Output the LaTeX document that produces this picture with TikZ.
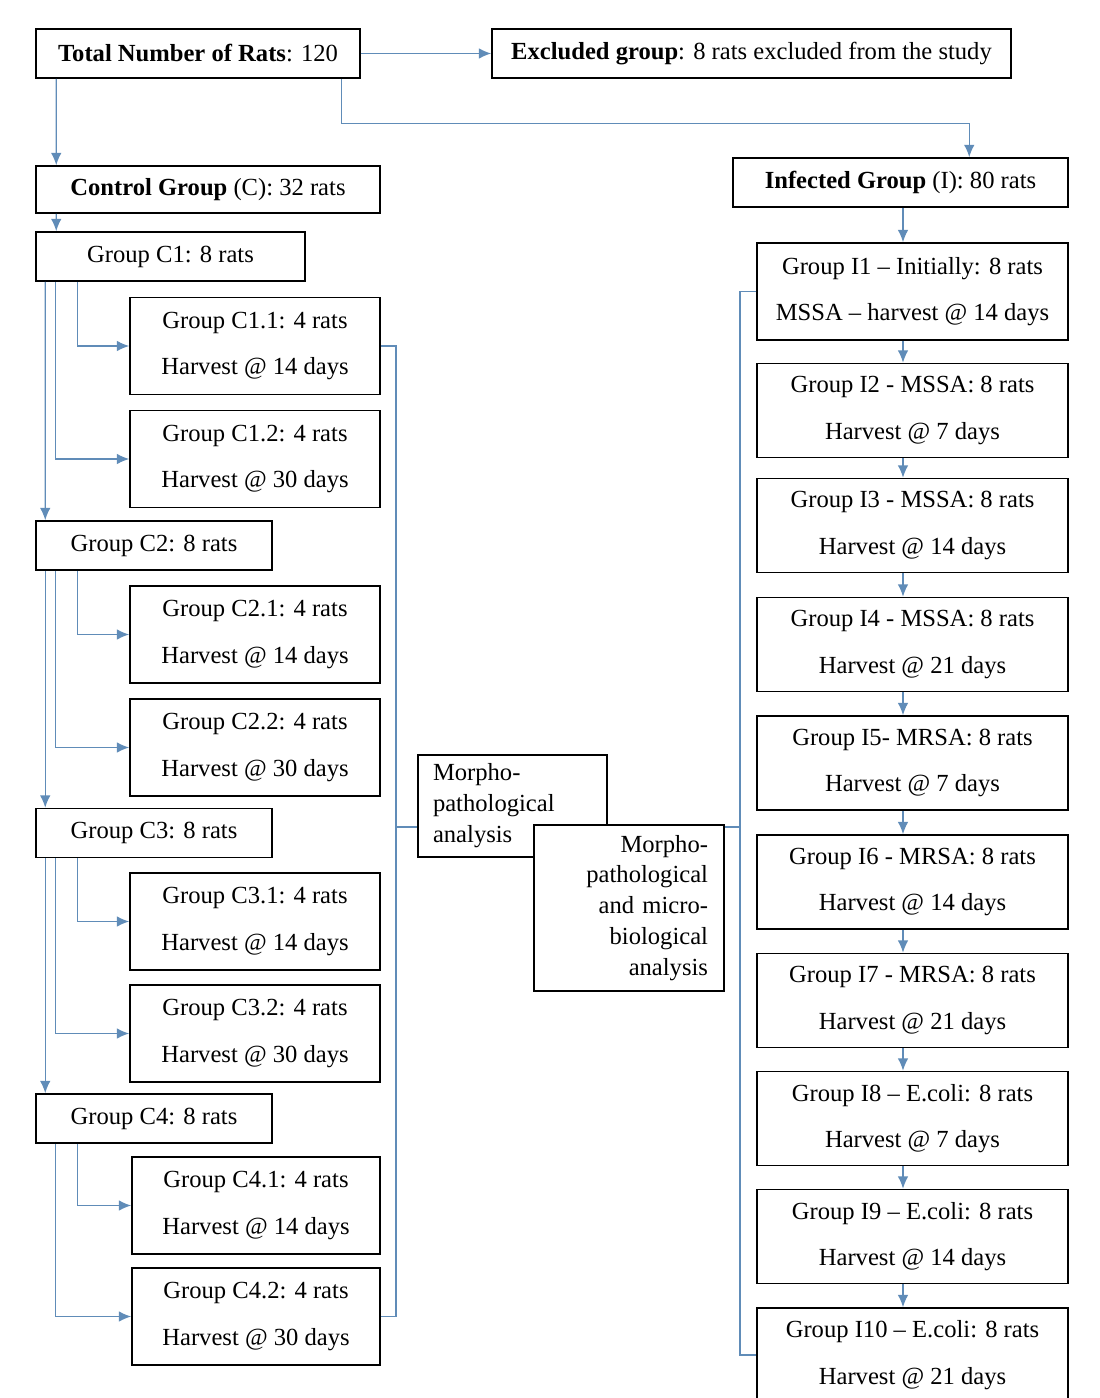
\documentclass[tikz,border=0pt]{standalone}
\usepackage{fontspec}
\setmainfont{Liberation Serif}
\usetikzlibrary{arrows.meta,calc}

\definecolor{linkblue}{RGB}{96,140,184}

\tikzset{
  box/.style={draw=black, line width=0.9pt, fill=white, inner sep=0pt, align=center, font=\fontsize{14}{26.6}\selectfont},
  head/.style={box, minimum height=0.98cm},
  grp/.style={box, minimum width=5cm, minimum height=1.94cm},
  infbox/.style={box, minimum width=6.22cm, minimum height=1.88cm},
  note/.style={box, font=\fontsize{14}{17.6}\selectfont},
  conn/.style={draw=linkblue, line width=0.8pt},
  arr/.style={conn, -{Latex[length=7pt,width=6pt]}},
}

\begin{document}
\begin{tikzpicture}[x=0.02cm, y=-0.02cm]
    \path[use as bounding box, fill=white] (0,0) rectangle (1099,1398);

    % top row
    \node[head, minimum width=6.48cm] (tot) at (198,53.5) {\textbf{Total Number of Rats}: 120};
    \node[head, minimum width=10.38cm] (exc) at (751.5,53.5) {\textbf{Excluded group}: 8 rats excluded from the study};

    % control side
    \node[head, minimum width=6.88cm, minimum height=0.94cm] (ctl) at (208,189.5) {\textbf{Control Group} (C): 32 rats};
    \node[head, minimum width=5.38cm] (c1) at (170.5,256.5) {Group C1: 8 rats};
    \node[grp] (c11) at (255,346) {Group C1.1: 4 rats\\Harvest @ 14 days};
    \node[grp] (c12) at (255,459) {Group C1.2: 4 rats\\Harvest @ 30 days};
    \node[head, minimum width=4.72cm] (c2) at (154,545.5) {Group C2: 8 rats};
    \node[grp] (c21) at (255,634.5) {Group C2.1: 4 rats\\Harvest @ 14 days};
    \node[grp] (c22) at (255,747.5) {Group C2.2: 4 rats\\Harvest @ 30 days};
    \node[head, minimum width=4.72cm] (c3) at (154,833) {Group C3: 8 rats};
    \node[grp] (c31) at (255,921.5) {Group C3.1: 4 rats\\Harvest @ 14 days};
    \node[grp] (c32) at (255,1033.5) {Group C3.2: 4 rats\\Harvest @ 30 days};
    \node[head, minimum width=4.72cm] (c4) at (154,1118.5) {Group C4: 8 rats};
    \node[grp, minimum width=4.96cm] (c41) at (256,1205.5) {Group C4.1: 4 rats\\Harvest @ 14 days};
    \node[grp, minimum width=4.96cm] (c42) at (256,1316.5) {Group C4.2: 4 rats\\Harvest @ 30 days};

    % infected side
    \node[head, minimum width=6.7cm] (inf) at (900.5,182.5) {\textbf{Infected Group} (I): 80 rats};
    \node[infbox, minimum height=1.94cm] (i1) at (912.5,291.5) {Group I1 – Initially: 8 rats\\MSSA – harvest @ 14 days};
    \node[infbox] (i2) at (912.5,410.5) {Group I2 - MSSA: 8 rats\\Harvest @ 7 days};
    \node[infbox] (i3) at (912.5,525.5) {Group I3 - MSSA: 8 rats\\Harvest @ 14 days};
    \node[infbox] (i4) at (912.5,644.5) {Group I4 - MSSA: 8 rats\\Harvest @ 21 days};
    \node[infbox] (i5) at (912.5,763) {Group I5- MRSA: 8 rats\\Harvest @ 7 days};
    \node[infbox] (i6) at (912.5,882) {Group I6 - MRSA: 8 rats\\Harvest @ 14 days};
    \node[infbox] (i7) at (912.5,1000.5) {Group I7 - MRSA: 8 rats\\Harvest @ 21 days};
    \node[infbox] (i8) at (912.5,1118.5) {Group I8 – E.coli: 8 rats\\Harvest @ 7 days};
    \node[infbox] (i9) at (912.5,1236.5) {Group I9 – E.coli: 8 rats\\Harvest @ 14 days};
    \node[infbox] (i10) at (912.5,1355) {Group I10 – E.coli: 8 rats\\Harvest @ 21 days};

    % analysis notes
    \node[note, align=left, text width=3.18cm, inner xsep=0.3cm, minimum height=2.04cm] (m1) at (512.5,806) {Morpho-\\pathological\\analysis};
    \node[note, align=right, text width=3.16cm, inner xsep=0.32cm, minimum height=3.32cm] (m2) at (629,908) {Morpho-\\pathological\\and micro-\\biological\\analysis};

    % top arrows
    \draw[arr] (tot.east) -- (exc.west);
    \draw[arr] ($(tot.south west)+(21,0)$) -- ($(ctl.north west)+(21,0)$);
    \draw[arr] ($(ctl.south west)+(21,0)$) -- ($(c1.north west)+(21,0)$);
    \draw[arr] ($(tot.south east)+(-19,0)$) -- ++(0,45) -| ($(inf.north west)+(237,0)$);

    % control branches
    \foreach \a/\b in {c1/c2,c2/c3,c3/c4}
        \draw[arr] ($(\a.south west)+(10,0)$) -- ($(\b.north west)+(10,0)$);
    \foreach \g in {c1,c2,c3,c4} {
        \draw[arr] ($(\g.south west)+(20,0)$) |- (\g2.west);
        \draw[arr] ($(\g.south west)+(42,0)$) |- (\g1.west);
    }

    % infected chain
    \coordinate (ix) at (903,0);
    \draw[arr] (inf.south -| ix) -- (i1.north -| ix);
    \foreach \a/\b in {i1/i2,i2/i3,i3/i4,i4/i5,i5/i6,i6/i7,i7/i8,i8/i9,i9/i10}
        \draw[arr] (\a.south -| ix) -- (\b.north -| ix);

    % brackets to the notes
    \coordinate (lb) at (396,827);
    \draw[conn] (c11.east) -| (lb) |- (c42.east);
    \draw[conn] (lb) -- (lb -| m1.west);
    \coordinate (rb) at (740,827);
    \draw[conn] (i1.west) -| (rb) |- (i10.west);
    \draw[conn] (rb) -- (rb -| m2.east);
\end{tikzpicture}
\end{document}
